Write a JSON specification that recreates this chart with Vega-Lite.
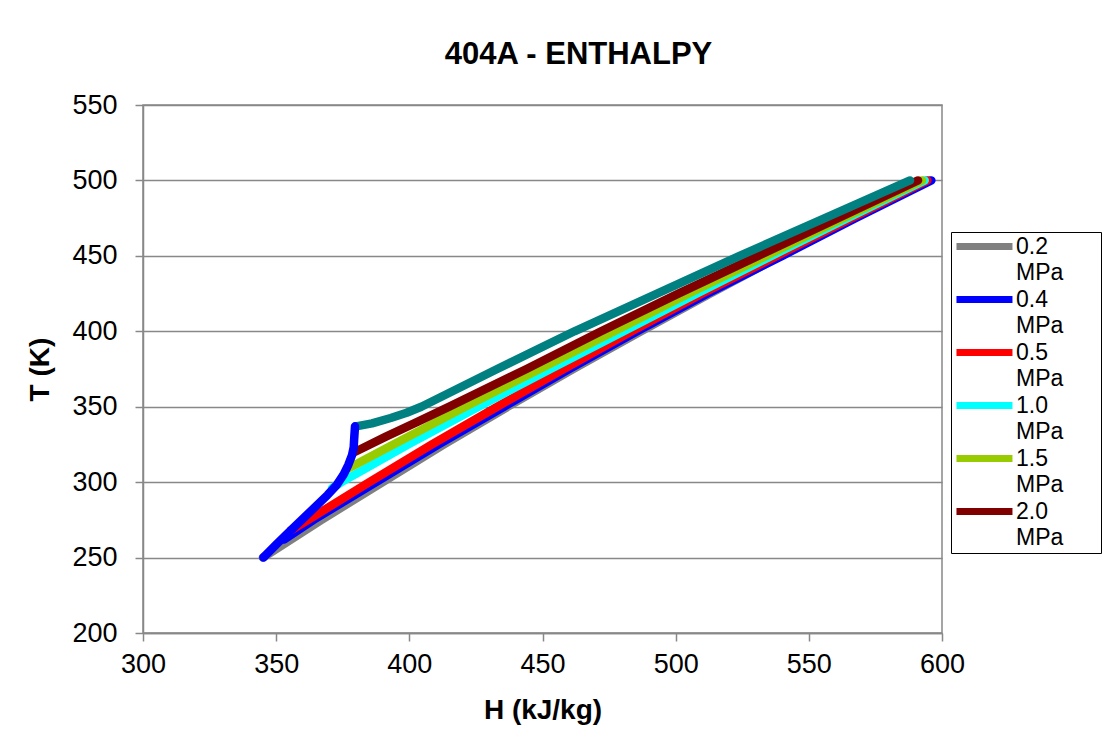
{
  "$schema": "https://vega.github.io/schema/vega-lite/v6.json",
  "width": 799,
  "height": 528,
  "autosize": {"type": "none"},
  "padding": {"left": 143, "top": 105, "right": 168, "bottom": 121},
  "background": "white",
  "title": {"text": "404A - ENTHALPY", "font": "Liberation Sans", "fontSize": 31, "fontWeight": "bold", "color": "#000", "anchor": "middle", "frame": "group", "dx": 36, "offset": -4, "baseline": "alphabetic"},
  "config": {
    "view": {"stroke": "#888", "strokeWidth": 1.5},
    "axis": {"domainColor": "#888", "domainWidth": 1.5, "tickColor": "#888", "tickWidth": 1.5, "tickSize": 8, "labelFont": "Liberation Sans", "labelFontSize": 27, "labelColor": "#000", "labelFlush": false, "titleFont": "Liberation Sans", "titleFontSize": 28, "titleFontWeight": "bold", "titleColor": "#000", "gridColor": "#888", "gridWidth": 1.5, "gridOpacity": 1},
    "style": {"guide-label": {"lineHeight": 26}}
  },
  "data": {"values": [
    {"s": "0.2 MPa", "h": 345, "t": 250}, {"s": "0.2 MPa", "h": 367, "t": 275}, {"s": "0.2 MPa", "h": 390, "t": 300}, {"s": "0.2 MPa", "h": 413, "t": 325}, {"s": "0.2 MPa", "h": 437, "t": 350}, {"s": "0.2 MPa", "h": 461.5, "t": 375}, {"s": "0.2 MPa", "h": 487, "t": 400}, {"s": "0.2 MPa", "h": 513, "t": 425}, {"s": "0.2 MPa", "h": 539.5, "t": 450}, {"s": "0.2 MPa", "h": 566.8, "t": 475}, {"s": "0.2 MPa", "h": 595.3, "t": 500},
    {"s": "0.4 MPa", "h": 353, "t": 262}, {"s": "0.4 MPa", "h": 364, "t": 275}, {"s": "0.4 MPa", "h": 387.5, "t": 300}, {"s": "0.4 MPa", "h": 411, "t": 325}, {"s": "0.4 MPa", "h": 435.5, "t": 350}, {"s": "0.4 MPa", "h": 460, "t": 375}, {"s": "0.4 MPa", "h": 485.5, "t": 400}, {"s": "0.4 MPa", "h": 512, "t": 425}, {"s": "0.4 MPa", "h": 540, "t": 450}, {"s": "0.4 MPa", "h": 567.5, "t": 475}, {"s": "0.4 MPa", "h": 596, "t": 500},
    {"s": "0.5 MPa", "h": 355.5, "t": 268}, {"s": "0.5 MPa", "h": 362, "t": 275}, {"s": "0.5 MPa", "h": 385, "t": 300}, {"s": "0.5 MPa", "h": 408.5, "t": 325}, {"s": "0.5 MPa", "h": 433, "t": 350}, {"s": "0.5 MPa", "h": 458, "t": 375}, {"s": "0.5 MPa", "h": 483.5, "t": 400}, {"s": "0.5 MPa", "h": 510, "t": 425}, {"s": "0.5 MPa", "h": 538, "t": 450}, {"s": "0.5 MPa", "h": 566, "t": 475}, {"s": "0.5 MPa", "h": 594.5, "t": 500},
    {"s": "1.0 MPa", "h": 371, "t": 296}, {"s": "1.0 MPa", "h": 374.5, "t": 300}, {"s": "1.0 MPa", "h": 399.5, "t": 325}, {"s": "1.0 MPa", "h": 426, "t": 350}, {"s": "1.0 MPa", "h": 453, "t": 375}, {"s": "1.0 MPa", "h": 480.5, "t": 400}, {"s": "1.0 MPa", "h": 508, "t": 425}, {"s": "1.0 MPa", "h": 536, "t": 450}, {"s": "1.0 MPa", "h": 564.5, "t": 475}, {"s": "1.0 MPa", "h": 593.5, "t": 500},
    {"s": "1.5 MPa", "h": 377, "t": 309}, {"s": "1.5 MPa", "h": 394, "t": 325}, {"s": "1.5 MPa", "h": 421, "t": 350}, {"s": "1.5 MPa", "h": 449, "t": 375}, {"s": "1.5 MPa", "h": 477, "t": 400}, {"s": "1.5 MPa", "h": 505, "t": 425}, {"s": "1.5 MPa", "h": 534, "t": 450}, {"s": "1.5 MPa", "h": 563, "t": 475}, {"s": "1.5 MPa", "h": 592.5, "t": 500},
    {"s": "2.0 MPa", "h": 379.5, "t": 320}, {"s": "2.0 MPa", "h": 391, "t": 330}, {"s": "2.0 MPa", "h": 403, "t": 340}, {"s": "2.0 MPa", "h": 415, "t": 350}, {"s": "2.0 MPa", "h": 444, "t": 375}, {"s": "2.0 MPa", "h": 472, "t": 400}, {"s": "2.0 MPa", "h": 501, "t": 425}, {"s": "2.0 MPa", "h": 531, "t": 450}, {"s": "2.0 MPa", "h": 561, "t": 475}, {"s": "2.0 MPa", "h": 591, "t": 500},
    {"s": "2.5 MPa", "h": 380, "t": 337}, {"s": "2.5 MPa", "h": 386, "t": 339}, {"s": "2.5 MPa", "h": 393, "t": 342.5}, {"s": "2.5 MPa", "h": 399, "t": 346}, {"s": "2.5 MPa", "h": 404.5, "t": 350}, {"s": "2.5 MPa", "h": 433, "t": 375}, {"s": "2.5 MPa", "h": 462, "t": 400}, {"s": "2.5 MPa", "h": 493, "t": 425}, {"s": "2.5 MPa", "h": 524, "t": 450}, {"s": "2.5 MPa", "h": 556, "t": 475}, {"s": "2.5 MPa", "h": 588, "t": 500},
    {"s": "Sat", "h": 345.2, "t": 250}, {"s": "Sat", "h": 350.5, "t": 259.5}, {"s": "Sat", "h": 355.5, "t": 268}, {"s": "Sat", "h": 360.5, "t": 276.5}, {"s": "Sat", "h": 365.2, "t": 284.5}, {"s": "Sat", "h": 369.3, "t": 291.5}, {"s": "Sat", "h": 372.7, "t": 298}, {"s": "Sat", "h": 375.3, "t": 305}, {"s": "Sat", "h": 377.1, "t": 311.5}, {"s": "Sat", "h": 378.5, "t": 318}, {"s": "Sat", "h": 379.1, "t": 323}, {"s": "Sat", "h": 379.3, "t": 329}, {"s": "Sat", "h": 379.6, "t": 337}
  ]},
  "mark": {"type": "line", "strokeWidth": 8.5, "strokeCap": "round", "strokeJoin": "round", "clip": true},
  "encoding": {
    "x": {"field": "h", "type": "quantitative", "scale": {"domain": [300, 600], "nice": false, "zero": false},
      "axis": {"title": "H (kJ/kg)", "values": [300, 350, 400, 450, 500, 550, 600], "grid": false, "labelPadding": 10, "titlePadding": 19, "labelLineHeight": 29}},
    "y": {"field": "t", "type": "quantitative", "scale": {"domain": [200, 550], "nice": false, "zero": false},
      "axis": {"title": "T (K)", "values": [200, 250, 300, 350, 400, 450, 500, 550], "grid": true, "labelPadding": 18, "titlePadding": 17, "labelLineHeight": 29}},
    "color": {"field": "s", "type": "nominal",
      "scale": {"domain": ["0.2 MPa", "0.4 MPa", "0.5 MPa", "1.0 MPa", "1.5 MPa", "2.0 MPa", "2.5 MPa", "Sat"],
        "range": ["#808080", "#0000FF", "#FF0000", "#00FFFF", "#99CC00", "#800000", "#008080", "#0000FF"]},
      "legend": {"orient": "none", "legendX": 808, "legendY": 127,
        "title": "|", "titleColor": "white", "titleFontSize": 2, "titleOrient": "right", "titlePadding": 34,
        "values": ["0.2 MPa", "0.4 MPa", "0.5 MPa", "1.0 MPa", "1.5 MPa", "2.0 MPa"],
        "symbolType": "M-1.29,0H6.71", "symbolSize": 196, "symbolStrokeWidth": 7,
        "labelExpr": "split(datum.label, ' ')",
        "labelFont": "Liberation Sans", "labelFontSize": 23, "labelColor": "#000", "labelBaseline": "middle", "labelOffset": 39, "labelLimit": 300,
        "padding": 3, "rowPadding": 0, "strokeColor": "#000", "fillColor": "white"}}
  }
}
